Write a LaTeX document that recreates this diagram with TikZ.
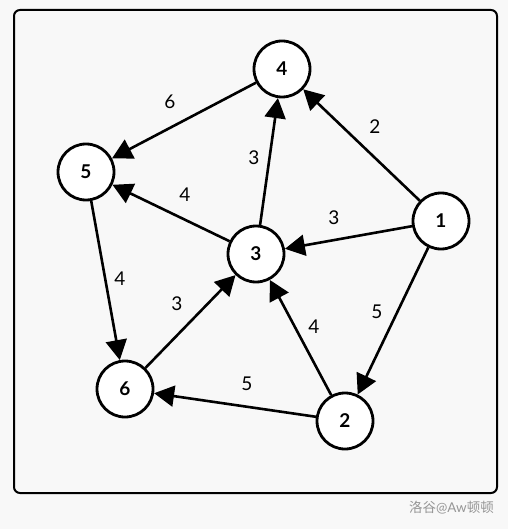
\documentclass[tikz,border=0pt]{standalone}
\usepackage{fontspec}
\setmainfont{Lato}
\newfontfamily\cjk{Noto Sans CJK SC}
\usetikzlibrary{arrows.meta}
\definecolor{bggray}{RGB}{248,248,248}
\definecolor{wmgray}{RGB}{150,150,150}

\begin{document}
\begin{tikzpicture}[
  x=1pt,y=-1pt,
  vertex/.style={circle,fill=white,draw=black,line width=2.8pt,minimum size=56pt,inner sep=0pt,font=\fontsize{19}{19}\selectfont\bfseries},
  arr/.style={-{Triangle[length=20pt,width=21pt]},line width=2.6pt},
  lbl/.style={inner sep=0pt,font=\fontsize{19}{19}\selectfont},
  frame/.style={draw=black,line width=2pt,rounded corners=6pt}
]
\fill[bggray] (0,0) rectangle (508,529);
\useasboundingbox (0,0) rectangle (508,529);
\draw[frame] (14,10) rectangle (497,493);
% ================= vertices =================
\node[vertex] (v1) at (441,221) {1};
\node[vertex] (v2) at (345,421) {2};
\node[vertex] (v3) at (256,254) {3};
\node[vertex] (v4) at (282,69) {4};
\node[vertex] (v5) at (86,172) {5};
\node[vertex] (v6) at (125,389) {6};
% ================= weighted edges =================
\draw[arr] (v4) -- node[lbl,xshift=-14pt,yshift=18.5pt] {6} (v5);
\draw[arr] (v1) -- node[lbl,xshift=13.5pt,yshift=18pt] {2} (v4);
\draw[arr] (v3) -- node[lbl,xshift=-15pt,yshift=3.5pt] {3} (v4);
\draw[arr] (v3) -- node[lbl,xshift=14pt,yshift=18pt] {4} (v5);
\draw[arr] (v1) -- node[lbl,xshift=-14.5pt,yshift=19.5pt] {3} (v3);
\draw[arr] (v5) -- node[lbl,xshift=14.5pt,yshift=1.5pt] {4} (v6);
\draw[arr] (v6) -- node[lbl,xshift=-13.5pt,yshift=17.5pt] {3} (v3);
\draw[arr] (v2) -- node[lbl,xshift=13.5pt,yshift=10.5pt] {4} (v3);
\draw[arr] (v1) -- node[lbl,xshift=-16pt,yshift=9pt] {5} (v2);
\draw[arr] (v2) -- node[lbl,xshift=12pt,yshift=21pt] {5} (v6);
% ================= watermark =================
\node[anchor=east,text=wmgray,inner sep=0pt,font=\fontsize{13.5}{13.5}\selectfont] (wm) at (494,508) {{\cjk 洛谷}@Aw{\cjk 顿顿}};
\end{tikzpicture}
\end{document}
